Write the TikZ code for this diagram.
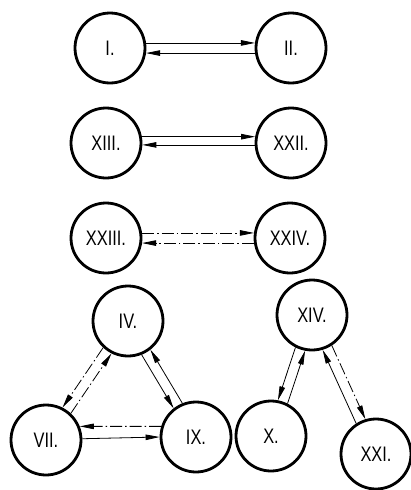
\documentclass[tikz,border=0pt]{standalone}
\usepackage{fontspec}
\setmainfont[FakeStretch=0.78]{Liberation Sans}
\usetikzlibrary{arrows.meta}
\begin{document}
\begin{tikzpicture}[x=1pt, y=-1pt, font=\fontsize{21}{24}\selectfont, line join=round, >={Triangle[length=14pt,width=5.5pt]},
  vong/.style={circle, draw, line width=2.8pt, minimum size=70pt, inner sep=0pt},
  noi/.style={->, line width=0.8pt},
  gachcham/.style={noi, dash pattern=on 12pt off 3pt on 1.5pt off 3pt}] % toạ độ theo điểm ảnh
\useasboundingbox (0,0) rectangle (411,490);
% Hàng 1: I và II
\node[vong] (I) at (110,48) {I.};
\node[vong] (II) at (291,48) {II.};
\draw[noi] (I.8) -- (II.172);
\draw[noi] (II.188) -- (I.352);
% Hàng 2: XIII và XXII
\node[vong] (XIII) at (106,143) {XIII.};
\node[vong] (XXII) at (291,143) {XXII.};
\draw[noi] (XIII.10) -- (XXII.170);
\draw[noi] (XXII.183) -- (XIII.357);
% Hàng 3: XXIII và XXIV (gạch chấm)
\node[vong] (XXIII) at (106,238) {XXIII.};
\node[vong] (XXIV) at (290,238) {XXIV.};
\draw[gachcham] (XXIII.8) -- (XXIV.172);
\draw[gachcham] (XXIV.188) -- (XXIII.352);
% Tam giác IV, VII, IX
\node[vong] (IV) at (128,321) {IV.};
\node[vong] (VII) at (46,440) {VII.};
\node[vong] (IX) at (196,437) {IX.};
\draw[gachcham] (IV.227) -- (VII.63);
\draw[gachcham] (VII.47) -- (IV.243);
\draw[noi] (IV.292) -- (IX.128);
\draw[noi] (IX.112) -- (IV.308);
\draw[gachcham] (IX.163) -- (VII.22);
\draw[noi] (VII.2) -- (IX.180);
% Nhóm XIV, X, XXI
\node[vong] (XIV) at (312,315) {XIV.};
\node[vong] (X) at (271,436) {X.};
\node[vong] (XXI) at (376,454) {XXI.};
\draw[noi] (XIV.243) -- (X.79);
\draw[noi] (X.63) -- (XIV.259);
\draw[noi] (XXI.123) -- (XIV.287);
\draw[gachcham] (XIV.303) -- (XXI.107);
\end{tikzpicture}
\end{document}
